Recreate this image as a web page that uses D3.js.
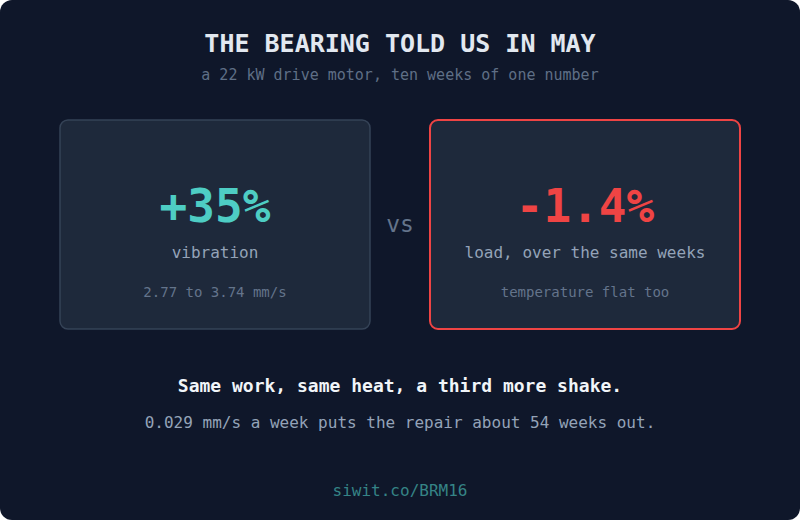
<!DOCTYPE html>
<html>
<head>
<meta charset="utf-8">
<script src="https://cdn.jsdelivr.net/npm/d3@7"></script>
<style>
  html, body { margin: 0; padding: 0; background: #ffffff; }
  svg { display: block; }
  text { font-family: "DejaVu Sans Mono", monospace; }
</style>
</head>
<body>
<svg id="chart" width="800" height="520"></svg>
<script>
const title = "THE BEARING TOLD US IN MAY";
const subtitle = "a 22 kW drive motor, ten weeks of one number";
const cardKeys = ["vibration", "load"];
const cardValues = ["+35%", "-1.4%"];
const cardLabels = ["vibration", "load, over the same weeks"];
const cardNotes = ["2.77 to 3.74 mm/s", "temperature flat too"];
const separator = "vs";
const headline = "Same work, same heat, a third more shake.";
const detail = "0.029 mm/s a week puts the repair about 54 weeks out.";
const footer = "siwit.co/BRM16";

const W = 800, H = 520;
const svg = d3.select("#chart");

svg.append("rect").attr("x", 0).attr("y", 0).attr("width", W).attr("height", H)
  .attr("rx", 12).attr("fill", "#0f172a");

svg.append("text").attr("x", W / 2).attr("y", 52).attr("text-anchor", "middle")
  .attr("font-size", 25).attr("font-weight", "bold").attr("fill", "#e2e8f0").text(title);
svg.append("text").attr("x", W / 2).attr("y", 80).attr("text-anchor", "middle")
  .attr("font-size", 15).attr("fill", "#5f6f86").text(subtitle);

const x = d3.scaleBand().domain(cardKeys).range([60, 740]).paddingInner(60 / 370);
const cw = x.bandwidth();
const accent = d3.scaleOrdinal().domain(cardKeys).range(["#4ecdc4", "#ef4444"]);
const stroke = d3.scaleOrdinal().domain(cardKeys).range(["#354357", "#ef4444"]);
const strokeW = d3.scaleOrdinal().domain(cardKeys).range([1.5, 2]);

const cards = svg.selectAll("g.card").data(cardKeys).join("g").attr("class", "card")
  .attr("transform", d => `translate(${x(d)},120)`);

cards.append("rect").attr("x", 0).attr("y", 0).attr("width", cw).attr("height", 209)
  .attr("rx", 8).attr("fill", "#1e293b")
  .attr("stroke", d => stroke(d)).attr("stroke-width", d => strokeW(d));

cards.append("text").attr("x", cw / 2).attr("y", 102).attr("text-anchor", "middle")
  .attr("font-size", 46).attr("font-weight", "bold").attr("fill", d => accent(d))
  .text((d, i) => cardValues[i]);
cards.append("text").attr("x", cw / 2).attr("y", 138).attr("text-anchor", "middle")
  .attr("font-size", 16).attr("fill", "#94a3b8")
  .text((d, i) => cardLabels[i]);
cards.append("text").attr("x", cw / 2).attr("y", 177).attr("text-anchor", "middle")
  .attr("font-size", 14).attr("fill", "#64748b")
  .text((d, i) => cardNotes[i]);

svg.append("text").attr("x", W / 2).attr("y", 232).attr("text-anchor", "middle")
  .attr("font-size", 23).attr("fill", "#64748b").text(separator);

svg.append("text").attr("x", W / 2).attr("y", 392).attr("text-anchor", "middle")
  .attr("font-size", 18).attr("font-weight", "bold").attr("fill", "#f1f5f9").text(headline);
svg.append("text").attr("x", W / 2).attr("y", 428).attr("text-anchor", "middle")
  .attr("font-size", 16).attr("fill", "#94a3b8").text(detail);
svg.append("text").attr("x", W / 2).attr("y", 496).attr("text-anchor", "middle")
  .attr("font-size", 16).attr("fill", "#358486").text(footer);
</script>
</body>
</html>
